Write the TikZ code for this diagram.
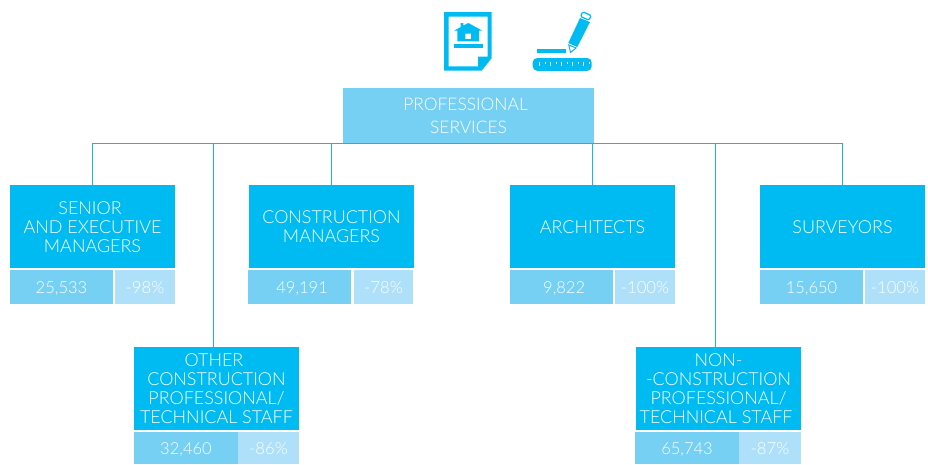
\documentclass[tikz,border=0pt]{standalone}
\usepackage{fontspec}
\setmainfont{Lato}[UprightFont=* Light]
\definecolor{deepblue}{HTML}{00BBF2}
\definecolor{midblue}{HTML}{75D0F3}
\definecolor{paleblue}{HTML}{AEE0FA}
\definecolor{wireblue}{HTML}{19B4E6}
\newcommand{\tail}{\hspace*{2.8pt}}
\tikzset{
  tbox/.style={text=white, inner sep=0pt, align=center, font=\fontsize{10.2}{10.8}\selectfont},
  headbox/.style={tbox, fill=deepblue, minimum width=165*0.567pt, minimum height=83.5*0.567pt},
  topbox/.style={tbox, fill=midblue, minimum width=251*0.567pt, minimum height=55*0.567pt, font=\fontsize{9.9}{10.8}\selectfont},
  countbox/.style={tbox, fill=midblue, minimum width=103*0.567pt, minimum height=35*0.567pt, text height=7pt, text depth=0pt, font=\fontsize{9.4}{10.8}\selectfont},
  sharebox/.style={tbox, fill=paleblue, minimum width=60*0.567pt, minimum height=35*0.567pt, text height=7pt, text depth=0pt, font=\fontsize{9.5}{10.8}\selectfont},
  lowrow/.style={minimum height=32*0.567pt},
  wire/.style={draw=wireblue, line width=0.65pt},
  icon/.style={fill=deepblue, draw=none}
}
\begin{document}
\begin{tikzpicture}[x=0.02cm, y=-0.02cm]
    \useasboundingbox (0,0) rectangle (928,464);

    % top box
    \node[topbox] (top) at (468.5,115.5) {PROFESSIONAL\hspace*{3.4pt}\\[2.2pt]SERVICES};

    % first row
    \node[headbox] (senior) at (92.5,226.8) {SENIOR\tail\\AND EXECUTIVE\\MANAGERS};
    \node[countbox] (seniorcount) at (61.5,287) {25,533};
    \node[sharebox] (seniorshare) at (145,287) {-98\%};

    \node[headbox] (construction) at (331.5,226.8) {CONSTRUCTION\\MANAGERS};
    \node[countbox] (constructioncount) at (299.5,287) {\hspace*{3pt}49,191};
    \node[sharebox] (constructionshare) at (383.5,287) {-78\%};

    \node[headbox] (architects) at (592.5,226.8) {ARCHITECTS};
    \node[countbox] (architectscount) at (561.5,287) {\hspace*{3pt}9,822};
    \node[sharebox] (architectsshare) at (645,287) {-100\%};

    \node[headbox] (surveyors) at (842.5,226.8) {SURVEYORS};
    \node[countbox] (surveyorscount) at (811.5,287) {15,650};
    \node[sharebox] (surveyorsshare) at (895,287) {-100\%};

    % second row
    \node[headbox] (other) at (216.5,388.8) {OTHER\tail\\CONSTRUCTION\tail\\PROFESSIONAL/\\TECHNICAL STAFF};
    \node[countbox, lowrow, minimum width=104*0.567pt] (othercount) at (186,448) {32,460};
    \node[sharebox, lowrow, minimum width=61*0.567pt] (othershare) at (268.5,448) {-86\%};

    \node[headbox] (non) at (718.5,388.8) {NON-\\-CONSTRUCTION\tail\\PROFESSIONAL/\\TECHNICAL STAFF\tail};
    \node[countbox, lowrow, minimum width=104*0.567pt] (noncount) at (687,448) {65,743};
    \node[sharebox, lowrow, minimum width=62*0.567pt] (nonshare) at (770,448) {-87\%};

    % connectors
    \coordinate (otherdrop) at (213.5,143.5);
    \coordinate (nondrop) at (715.5,143.5);
    \draw[wire] (senior.north) -- (senior.north |- otherdrop) -- (surveyors.north |- otherdrop) -- (surveyors.north);
    \draw[wire] (otherdrop) -- (otherdrop |- other.north);
    \draw[wire] (nondrop) -- (nondrop |- non.north);
    \draw[wire] (construction.north) -- (construction.north |- otherdrop);
    \draw[wire] (architects.north) -- (architects.north |- otherdrop);

    % document icon
    \fill[icon, even odd rule] (444,12) -- (491.7,12) -- (491.7,58) -- (481.7,70.7) -- (444,70.7) -- cycle
        (448.5,16.5) -- (487.5,16.5) -- (487.5,56.5) -- (478,56.5) -- (478,66.3) -- (448.5,66.3) -- cycle;
    \fill[icon] (480,59) -- (488,59) -- (480,68.5) -- cycle;
    \fill[icon, even odd rule] (468.3,23) -- (482.3,30.7) -- (479,30.7) -- (479,41.3) -- (457.3,41.3) -- (457.3,30.7) -- (454,30.7) -- (460.7,27) -- (460.7,23) -- (463.3,23) -- (463.3,25.6) -- cycle
        (465.3,33.7) rectangle (471,39);
    \fill[icon] (454,43.7) rectangle (483.3,48);

    % pencil and ruler icon
    \fill[icon] (537,48.7) rectangle (566,53);
    \fill[icon, rounded corners=2.5] (532.7,58) rectangle (591.7,70.8);
    \foreach \tick in {0,2,...,8}
        \fill[white] (539+\tick*5.5,61.5) rectangle ++(1.2,4.8);
    \foreach \tick in {1,3,...,9}
        \fill[white] (539+\tick*5.5,61.5) rectangle ++(1.2,2.8);
    \fill[icon] (568.3,43) -- (580,18) -- (590,22) -- (577.3,47) -- cycle;
    \draw[wireblue, line width=0.6pt, fill=white] (570.5,52.5) -- (568.8,45) -- (576,48) -- cycle;
    \draw[deepblue, line width=0.7pt, fill=white, rounded corners=0.8] (582.7,11.8) -- (591.2,15.5) -- (589,20.2) -- (580.5,16.5) -- cycle;
\end{tikzpicture}
\end{document}
